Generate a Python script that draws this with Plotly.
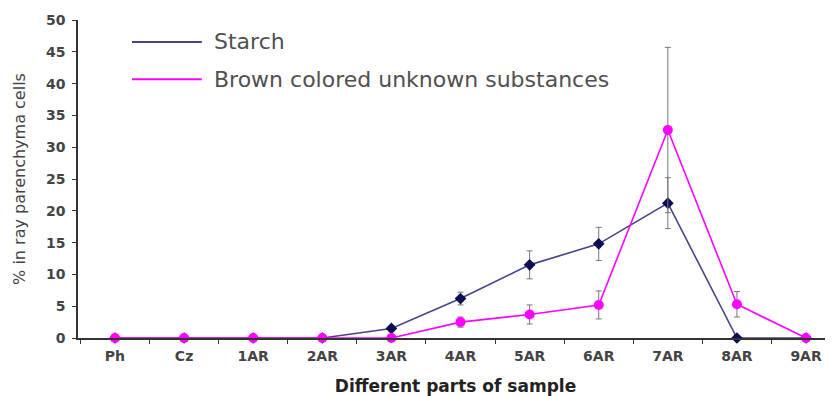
import plotly.graph_objects as go

categories = ["Ph", "Cz", "1AR", "2AR", "3AR", "4AR", "5AR", "6AR", "7AR", "8AR", "9AR"]
starch = [0, 0, 0, 0, 1.5, 6.2, 11.5, 14.8, 21.2, 0, 0]
starch_err = [0, 0, 0, 0, 0.4, 1.0, 2.2, 2.6, 4.0, 0, 0]
brown = [0, 0, 0, 0, 0, 2.5, 3.7, 5.2, 32.7, 5.3, 0]
brown_err = [0, 0, 0, 0, 0, 0.8, 1.5, 2.2, 13.0, 2.0, 0]
y_ticks = [0, 5, 10, 15, 20, 25, 30, 35, 40, 45, 50]

err_style = dict(type="data", thickness=1, width=3, color="#777777")
FONT = "DejaVu Sans"

fig = go.Figure()
fig.add_trace(go.Scatter(
    x=categories, y=starch, name="Starch", mode="lines+markers",
    line=dict(color="#45458a", width=1.6),
    marker=dict(symbol="diamond", size=9, color="#0d0d55"),
    error_y=dict(array=starch_err, **err_style),
    cliponaxis=False, showlegend=False,
))
fig.add_trace(go.Scatter(
    x=categories, y=brown, name="Brown colored unknown substances", mode="lines+markers",
    line=dict(color="#ff00ff", width=1.6),
    marker=dict(symbol="circle", size=10, color="#ff00ff"),
    error_y=dict(array=brown_err, **err_style),
    cliponaxis=False, showlegend=False,
))

# legend drawn manually (line-only samples)
legend_items = [("Starch", "#45458a", 0.931), ("Brown colored unknown substances", "#ff00ff", 0.814)]
for label, col, yy in legend_items:
    fig.add_shape(type="line", xref="paper", yref="paper",
                  x0=0.0715, x1=0.164, y0=yy, y1=yy,
                  line=dict(color=col, width=2))
    fig.add_annotation(xref="paper", yref="paper", x=0.1775, y=yy,
                       text=label, showarrow=False, xanchor="left", yanchor="middle",
                       font=dict(family=FONT, size=22, color="#505050"))

fig.update_layout(
    width=825, height=388,
    margin=dict(l=70, r=0, t=12, b=58),
    plot_bgcolor="white", paper_bgcolor="white",
    showlegend=False,
    font=dict(family=FONT, color="#333333"),
)
fig.update_xaxes(
    type="category", range=[-0.535, 10.39],
    showline=True, linecolor="#333333", linewidth=1.5,
    ticks="outside", tickson="boundaries", ticklen=4, tickcolor="#333333",
    ticklabelstandoff=4,
    tickfont=dict(size=14, family=FONT, weight="bold", color="#444444"),
    showgrid=False, zeroline=False,
    title=dict(text="Different parts of sample", standoff=22,
               font=dict(size=17, family=FONT, weight="bold", color="#222222")),
)
fig.update_yaxes(
    range=[0, 50], tickvals=y_ticks,
    showline=True, linecolor="#333333", linewidth=1.5,
    ticks="outside", ticklen=4, tickcolor="#333333",
    ticklabelstandoff=4,
    tickfont=dict(size=14, family=FONT, weight="bold", color="#444444"),
    showgrid=False, zeroline=False,
    title=dict(text="% in ray parenchyma cells", standoff=16,
               font=dict(size=16, family=FONT, color="#444444")),
)

fig.write_html("out.html")
